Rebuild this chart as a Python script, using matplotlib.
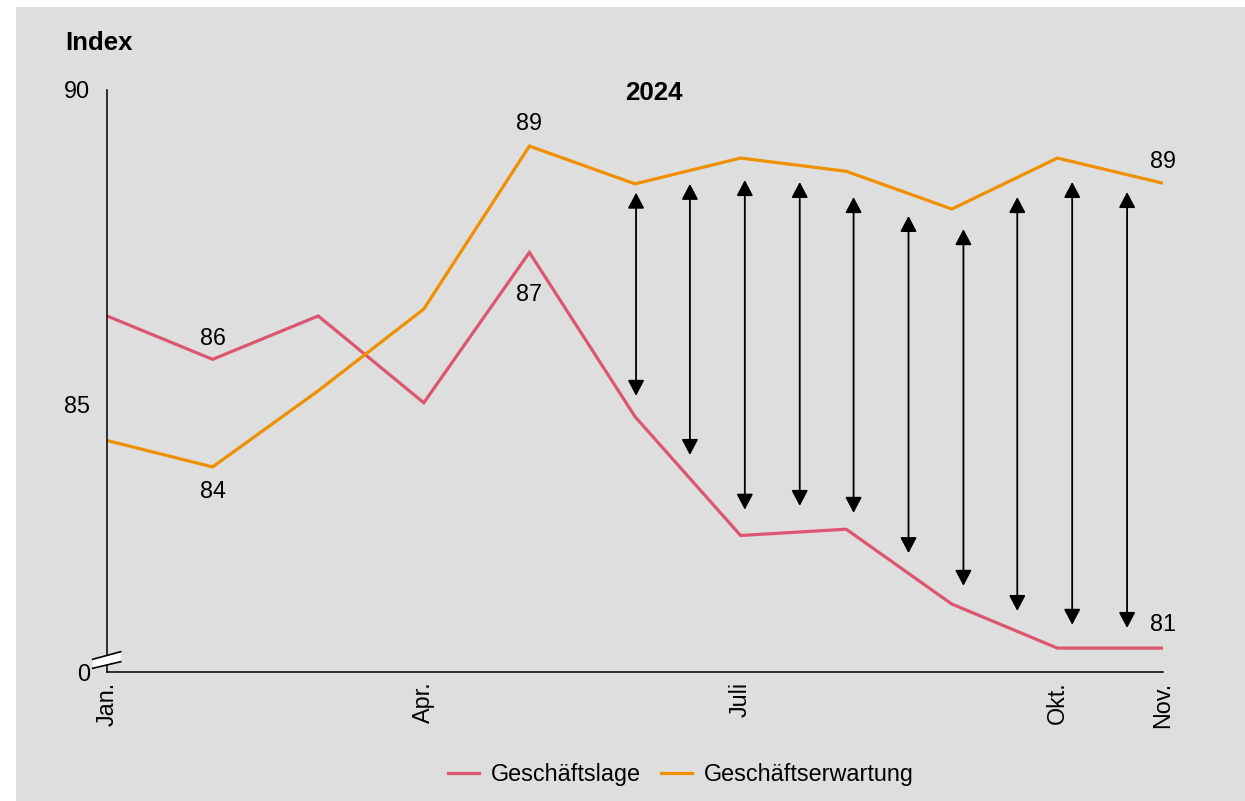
import matplotlib
matplotlib.use("Agg")
import matplotlib.pyplot as plt
from matplotlib.patches import Rectangle, Polygon

plt.rcParams['font.family'] = ['Liberation Sans', 'DejaVu Sans']

# data
months = list(range(11))  # Jan .. Nov 2024
lage = [86.40, 85.71, 86.40, 85.02, 87.41, 84.80, 82.91, 83.01, 81.82, 81.12, 81.12]
erwartung = [84.42, 84.00, 85.21, 86.51, 89.10, 88.50, 88.91, 88.70, 88.10, 88.91, 88.51]

tick_pos = [0, 3, 6, 9, 10]
tick_labels = ['Jan.', 'Apr.', 'Juli', 'Okt.', 'Nov.']

# double arrows between the two lines
arrow_x = [5.01, 5.52, 6.04, 6.56, 7.07, 7.59, 8.11, 8.62, 9.14, 9.66]
arrow_top = [88.36, 88.50, 88.56, 88.53, 88.29, 87.99, 87.78, 88.29, 88.53, 88.37]
arrow_bottom = [85.13, 84.19, 83.32, 83.38, 83.27, 82.63, 82.11, 81.71, 81.49, 81.44]

# point labels: (x, y, text, offset in points)
point_labels = [
    (1, 85.71, '86', 15),
    (1, 84.00, '84', -18),
    (4, 87.41, '87', -30),
    (4, 89.10, '89', 16),
    (10, 88.51, '89', 16),
    (10, 81.12, '81', 17),
]

red = '#dc5670'
orange = '#ee9000'
grey = '#dedede'
y_bottom = 80.74
fs = 16.8

fig = plt.figure(figsize=(12.45, 8.01), dpi=100, facecolor='white')
fig.patches.append(Rectangle((16 / 1245, 0), 1 - 16 / 1245, 1 - 7 / 801,
                             transform=fig.transFigure, facecolor=grey,
                             edgecolor='none', zorder=-10))

ax = fig.add_axes([107 / 1245, 1 - 672 / 801, 1056 / 1245, 582.5 / 801])
ax.set_facecolor(grey)
ax.patch.set_alpha(0)

ax.plot(months, lage, color=red, lw=2.3, label='Geschäftslage', solid_joinstyle='miter')
ax.plot(months, erwartung, color=orange, lw=2.3, label='Geschäftserwartung', solid_joinstyle='miter')

for xa, yt, yb in zip(arrow_x, arrow_top, arrow_bottom):
    ax.annotate('', xy=(xa, yt), xytext=(xa, yb),
                arrowprops=dict(arrowstyle='<|-|>,head_length=0.95,head_width=0.5',
                                mutation_scale=10, color='black', lw=1.3,
                                shrinkA=0, shrinkB=0))

for xp, yp, txt, off in point_labels:
    ax.annotate(txt, (xp, yp), xytext=(0, off), textcoords='offset points',
                ha='center', va='center', fontsize=fs)

ax.set_xlim(0, 10)
ax.set_ylim(y_bottom, 90)
ax.set_xticks(tick_pos)
ax.set_xticklabels(tick_labels, rotation=90, fontsize=fs)
ax.set_yticks([y_bottom, 85, 90])
ax.set_yticklabels(['0', '85', '90'], fontsize=fs)
ax.tick_params(axis='both', length=0)
ax.tick_params(axis='y', pad=12)
ax.tick_params(axis='x', pad=7)

for s in ['top', 'right']:
    ax.spines[s].set_visible(False)
ax.spines['left'].set_linewidth(1.1)
ax.spines['bottom'].set_linewidth(1.1)

# axis break mark
def px(x, y):
    return ((x - 107) / 1056, (672 - y) / 582.5)

brk = Polygon([px(92.7, 668.3), px(92.7, 659.3), px(120.7, 651.7), px(120.7, 661.7)],
              closed=True, transform=ax.transAxes, facecolor='white',
              edgecolor='none', clip_on=False, zorder=5)
ax.add_patch(brk)
for y0, y1 in [(659.3, 651.7), (668.3, 661.7)]:
    p0, p1 = px(92.7, y0), px(120.7, y1)
    ax.plot([p0[0], p1[0]], [p0[1], p1[1]], color='black', lw=1.2,
            transform=ax.transAxes, clip_on=False, zorder=6)

fig.text(65 / 1245, 1 - 43 / 801, 'Index', fontsize=18.6, fontweight='bold',
         ha='left', va='center')
fig.text(654 / 1245, 1 - 93 / 801, '2024', fontsize=18.6, fontweight='bold',
         ha='center', va='center')

fig.legend(loc='center', bbox_to_anchor=(681 / 1245, 1 - 775 / 801), ncol=2,
           frameon=False, fontsize=fs, handlelength=1.35, columnspacing=0.85,
           handletextpad=0.5)

fig.savefig('out.png', dpi=100, facecolor='white')
